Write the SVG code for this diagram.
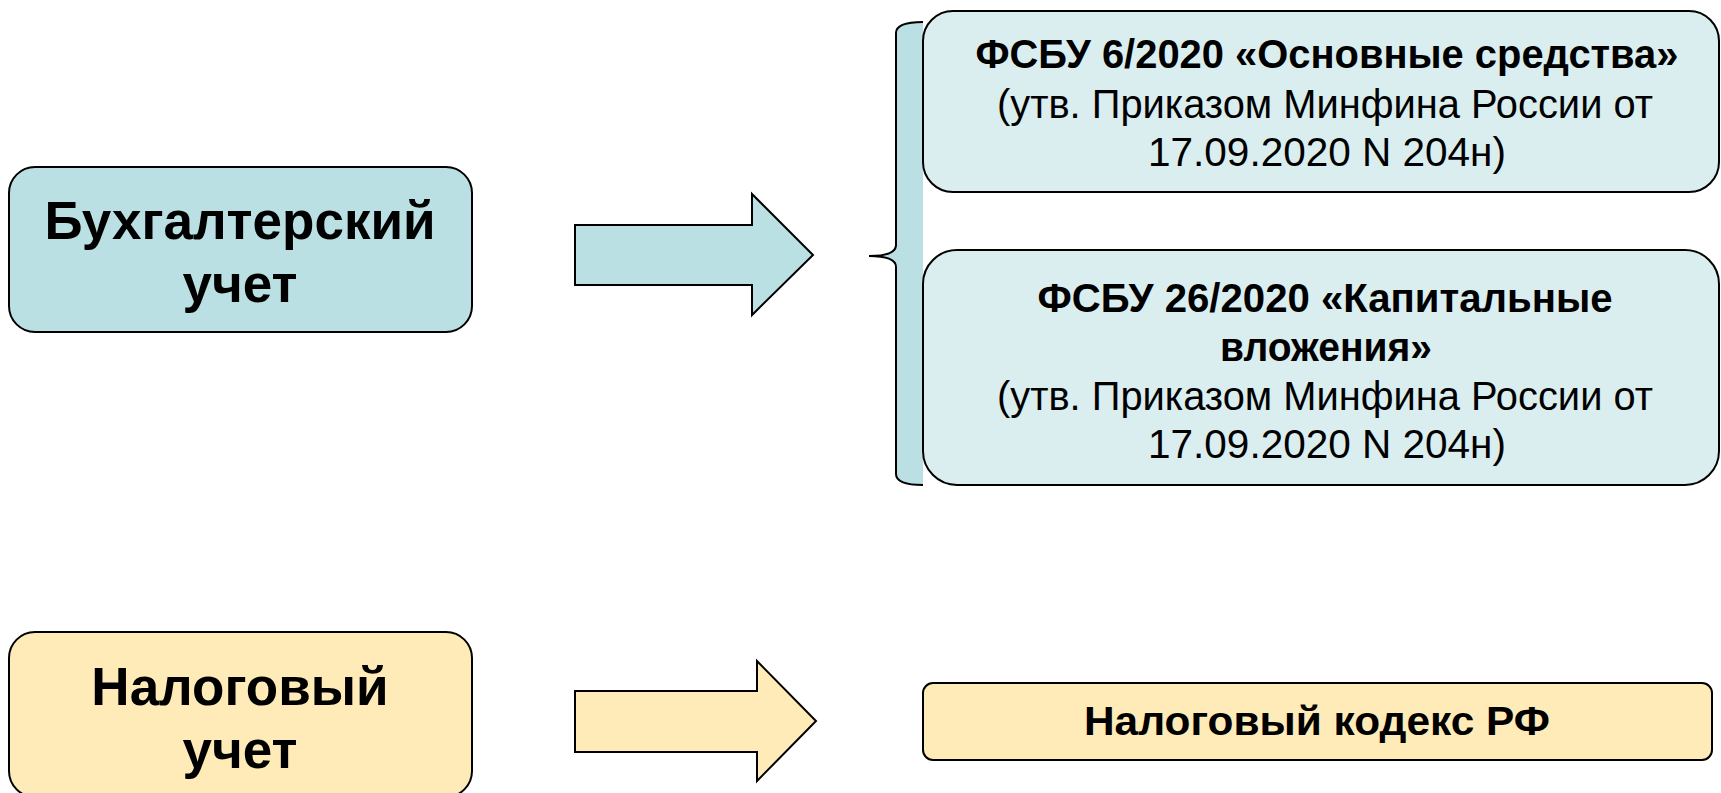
<svg xmlns="http://www.w3.org/2000/svg" width="1721" height="793" viewBox="0 0 1721 793">
  <style>
    .box { stroke: #000; stroke-width: 2; }
    .blue { fill: #BBE0E3; }
    .pale { fill: #DAEEF0; }
    .sand { fill: #FFEBB7; }
    .big { font-family: "Liberation Sans", Arial, sans-serif; font-weight: bold; font-size: 53px; text-anchor: middle; fill: #000; }
    .doc { font-family: "Liberation Sans", Arial, sans-serif; font-size: 40px; text-anchor: middle; fill: #000; }
    .b { font-weight: bold; }
  </style>
  <rect width="1721" height="793" fill="#fff"/>

  <!-- left-hand categories -->
  <g id="accounting">
    <rect class="box blue" x="9" y="167" width="463" height="165" rx="26"/>
    <text class="big" x="240" y="239">Бухгалтерский</text>
    <text class="big" x="240" y="302">учет</text>
  </g>
  <g id="tax">
    <rect class="box sand" x="9" y="632" width="463" height="165" rx="26"/>
    <text class="big" x="240" y="705">Налоговый</text>
    <text class="big" x="240" y="768">учет</text>
  </g>

  <!-- arrows and brace -->
  <g id="connectors">
    <path class="box blue" d="M575 225 H752 V194 L813 255 L752 315 V285 H575 Z"/>
    <path class="box sand" d="M575 691 H757 V661 L816 721 L757 781 V752 H575 Z"/>
    <path class="blue" d="M923 22 Q896 22 896 33 V245 Q896 256 869 256 Q896 256 896 267 V474 Q896 485 923 485 Z"/>
    <path fill="none" stroke="#000" stroke-width="2" d="M923 22 Q896 22 896 33 V245 Q896 256 869 256 Q896 256 896 267 V474 Q896 485 923 485"/>
  </g>

  <!-- right-hand documents -->
  <g id="fsbu6">
    <rect class="box pale" x="923" y="11" width="796" height="181" rx="30"/>
    <text class="doc b" x="1327" y="68" textLength="703" lengthAdjust="spacingAndGlyphs">ФСБУ 6/2020 «Основные средства»</text>
    <text class="doc" x="1325" y="118" textLength="656" lengthAdjust="spacingAndGlyphs">(утв. Приказом Минфина России от</text>
    <text class="doc" x="1327" y="166" textLength="358" lengthAdjust="spacingAndGlyphs">17.09.2020 N 204н)</text>
  </g>
  <g id="fsbu26">
    <rect class="box pale" x="923" y="250" width="796" height="235" rx="34"/>
    <text class="doc b" x="1325" y="312" textLength="575" lengthAdjust="spacingAndGlyphs">ФСБУ 26/2020 «Капитальные</text>
    <text class="doc b" x="1326" y="361" textLength="212" lengthAdjust="spacingAndGlyphs">вложения»</text>
    <text class="doc" x="1325" y="410" textLength="656" lengthAdjust="spacingAndGlyphs">(утв. Приказом Минфина России от</text>
    <text class="doc" x="1327" y="458" textLength="358" lengthAdjust="spacingAndGlyphs">17.09.2020 N 204н)</text>
  </g>
  <g id="taxcode">
    <rect class="box sand" x="923" y="683" width="789" height="77" rx="10"/>
    <text class="doc b" x="1317" y="735" textLength="466" lengthAdjust="spacingAndGlyphs">Налоговый кодекс РФ</text>
  </g>
</svg>
